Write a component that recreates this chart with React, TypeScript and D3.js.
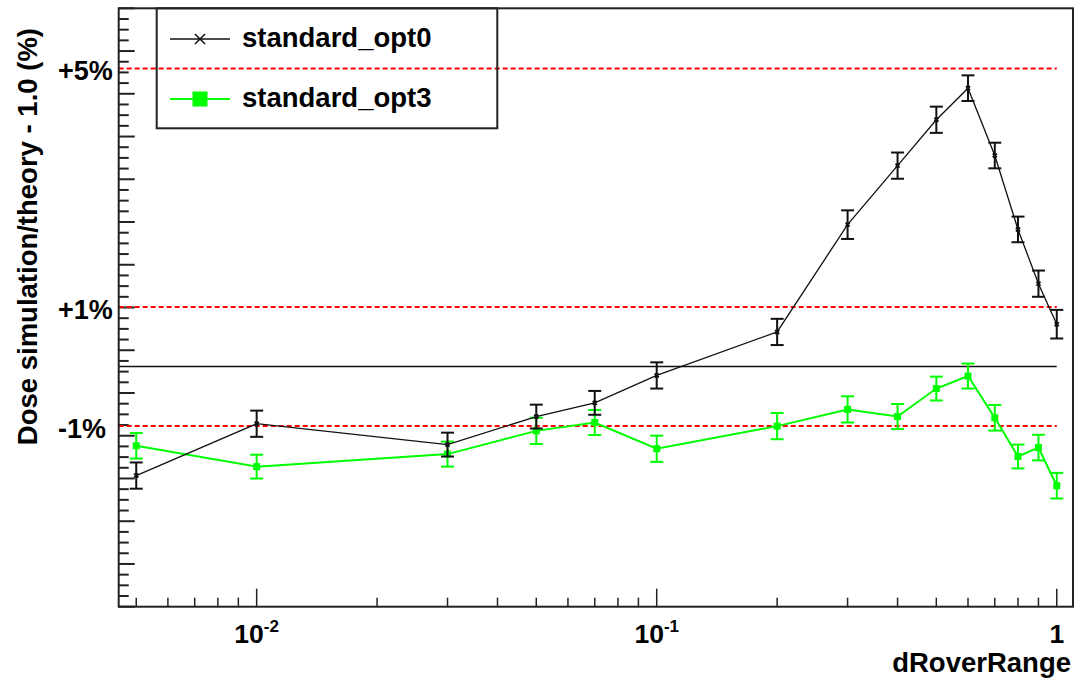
import * as d3 from 'd3';
import React, { useEffect, useRef } from 'react';

// dRoverRange sample points
const xValues = [0.005, 0.01, 0.03, 0.05, 0.07, 0.1, 0.2, 0.3, 0.4, 0.5, 0.6, 0.7, 0.8, 0.9, 1.0];

// standard_opt0 (black)
const opt0Values = [-1.83, -0.96, -1.31, -0.84, -0.61, -0.15, 0.58, 2.38, 3.37, 4.14, 4.67, 3.54, 2.30, 1.39, 0.71];
const opt0Errors = [0.22, 0.22, 0.2, 0.2, 0.2, 0.22, 0.22, 0.24, 0.22, 0.22, 0.215, 0.215, 0.215, 0.22, 0.24];

// standard_opt3 (green)
const opt3Values = [-1.33, -1.68, -1.47, -1.08, -0.94, -1.38, -1.0, -0.72, -0.84, -0.37, -0.16, -0.86, -1.51, -1.36, -2.0];
const opt3Errors = [0.215, 0.2, 0.21, 0.22, 0.21, 0.22, 0.22, 0.22, 0.21, 0.2, 0.21, 0.215, 0.2, 0.215, 0.215];

// reference lines
const refValues = [5, 1, -1];
const refLabels = ['+5%', '+1%', '-1%'];

// x axis labels
const xMajorTicks = [0.01, 0.1, 1];
const xTickBase = ['10', '10', '1'];
const xTickExp = ['-2', '-1', ''];

const seriesNames = ['standard_opt0', 'standard_opt3'];

const W = 1076, H = 679;
const FONT = "'Liberation Sans', Arial, Helvetica, sans-serif";
const GREEN = '#00ff00';

export default function App() {
  const ref = useRef<SVGSVGElement>(null);

  useEffect(() => {
    const svg = d3.select(ref.current);
    svg.selectAll('*').remove();

    const left = 118.7, right = 1073, top = 8.3, bottom = 606.7;

    const x = d3.scaleLog().domain([0.00452, 1.098]).range([left, right]);
    const y = d3.scaleLinear().domain([-4.03, 6.01]).range([bottom, top]);

    // y ticks: 14 major divisions, 4 sub each
    const [y0, y1] = y.domain();
    const step = (y1 - y0) / 14 / 4;
    svg.append('g').selectAll('line')
      .data(d3.range(0, 57))
      .enter().append('line')
      .attr('x1', left).attr('x2', (i) => left + (i % 4 === 0 ? 16 : 10))
      .attr('y1', (i) => y(y1 - i * step)).attr('y2', (i) => y(y1 - i * step))
      .attr('stroke', '#222').attr('stroke-width', 2);

    // x ticks
    const minor: number[] = [];
    for (let d = -3; d <= 0; d++) {
      for (let k = 2; k <= 9; k++) {
        const v = k * Math.pow(10, d);
        if (v > x.domain()[0] && v < x.domain()[1]) minor.push(v);
      }
    }
    svg.append('g').selectAll('line')
      .data(minor)
      .enter().append('line')
      .attr('x1', (d) => x(d)).attr('x2', (d) => x(d))
      .attr('y1', bottom).attr('y2', bottom - 9)
      .attr('stroke', '#222').attr('stroke-width', 1.5);
    svg.append('g').selectAll('line')
      .data(xMajorTicks)
      .enter().append('line')
      .attr('x1', (d) => x(d)).attr('x2', (d) => x(d))
      .attr('y1', bottom).attr('y2', bottom - 18)
      .attr('stroke', '#222').attr('stroke-width', 1.5);

    // x tick labels
    const lab = svg.append('g').attr('font-family', FONT).attr('font-weight', 'bold');
    xMajorTicks.forEach((t, i) => {
      const txt = lab.append('text')
        .attr('x', x(t)).attr('y', 643)
        .attr('text-anchor', 'middle').attr('font-size', 26.5);
      txt.append('tspan').text(xTickBase[i]);
      if (xTickExp[i]) {
        txt.append('tspan').attr('font-size', 17).attr('dy', -11).text(xTickExp[i]);
      }
    });

    // axis titles
    lab.append('text')
      .attr('x', 1071).attr('y', 672)
      .attr('text-anchor', 'end').attr('font-size', 27.5)
      .text('dRoverRange');
    lab.append('text')
      .attr('transform', 'translate(37,28) rotate(-90)')
      .attr('text-anchor', 'end').attr('font-size', 27.5)
      .text('Dose simulation/theory - 1.0 (%)');

    // reference lines
    svg.append('line')
      .attr('x1', left).attr('x2', x(1))
      .attr('y1', y(0)).attr('y2', y(0))
      .attr('stroke', '#111').attr('stroke-width', 1.5);
    refValues.forEach((v, i) => {
      svg.append('line')
        .attr('x1', left).attr('x2', x(1))
        .attr('y1', y(v)).attr('y2', y(v))
        .attr('stroke', '#ff0000').attr('stroke-width', 2)
        .attr('stroke-dasharray', '5 3');
      lab.append('text')
        .attr('x', 58).attr('y', y(v) + 12)
        .attr('font-size', 27)
        .text(refLabels[i]);
    });

    const line = d3.line<number>()
      .x((d, i) => x(xValues[i]))
      .y((d) => y(d));

    // error bars
    const drawErrors = (vals: number[], errs: number[], color: string) => {
      const g = svg.append('g').attr('stroke', color).attr('stroke-width', 2);
      vals.forEach((v, i) => {
        const cx = x(xValues[i]);
        g.append('line').attr('x1', cx).attr('x2', cx).attr('y1', y(v - errs[i])).attr('y2', y(v + errs[i]));
        g.append('line').attr('x1', cx - 6.5).attr('x2', cx + 6.5).attr('y1', y(v - errs[i])).attr('y2', y(v - errs[i]));
        g.append('line').attr('x1', cx - 6.5).attr('x2', cx + 6.5).attr('y1', y(v + errs[i])).attr('y2', y(v + errs[i]));
      });
    };

    // opt3 green
    svg.append('path').datum(opt3Values)
      .attr('d', line).attr('fill', 'none')
      .attr('stroke', GREEN).attr('stroke-width', 2);
    drawErrors(opt3Values, opt3Errors, GREEN);
    svg.append('g').selectAll('rect')
      .data(opt3Values)
      .enter().append('rect')
      .attr('x', (d, i) => x(xValues[i]) - 3.5).attr('y', (d) => y(d) - 3.5)
      .attr('width', 7).attr('height', 7).attr('fill', GREEN);

    // opt0 black
    svg.append('path').datum(opt0Values)
      .attr('d', line).attr('fill', 'none')
      .attr('stroke', '#111').attr('stroke-width', 1.3);
    drawErrors(opt0Values, opt0Errors, '#111');
    const cross = (g: any, cx: number, cy: number, s: number, w: number) => {
      g.append('path')
        .attr('d', `M${cx - s},${cy - s}L${cx + s},${cy + s}M${cx - s},${cy + s}L${cx + s},${cy - s}`)
        .attr('stroke', '#111').attr('stroke-width', w).attr('fill', 'none');
    };
    opt0Values.forEach((v, i) => cross(svg, x(xValues[i]), y(v), 2, 2));

    // frame
    svg.append('rect')
      .attr('x', left).attr('y', top)
      .attr('width', right - left).attr('height', bottom - top)
      .attr('fill', 'none').attr('stroke', '#222').attr('stroke-width', 2);

    // legend
    const lg = svg.append('g');
    lg.append('rect')
      .attr('x', 156.7).attr('y', top)
      .attr('width', 340.6).attr('height', 120)
      .attr('fill', 'none').attr('stroke', '#222').attr('stroke-width', 2);
    lg.append('line').attr('x1', 170).attr('x2', 230).attr('y1', 39).attr('y2', 39)
      .attr('stroke', '#111').attr('stroke-width', 1.5);
    cross(lg, 200, 39, 5, 1.5);
    lg.append('line').attr('x1', 170).attr('x2', 230).attr('y1', 99).attr('y2', 99)
      .attr('stroke', GREEN).attr('stroke-width', 2);
    lg.append('rect').attr('x', 192.5).attr('y', 91.5).attr('width', 15).attr('height', 15).attr('fill', GREEN);
    [47, 107].forEach((by, i) => {
      lg.append('text')
        .attr('x', 242).attr('y', by)
        .attr('font-family', FONT).attr('font-weight', 'bold').attr('font-size', 27.5)
        .text(seriesNames[i]);
    });
  }, []);

  return (
    <div style={{ position: 'absolute', left: 0, top: 0 }}>
      <svg ref={ref} width={W} height={H} style={{ display: 'block', background: '#fff' }} />
    </div>
  );
}
